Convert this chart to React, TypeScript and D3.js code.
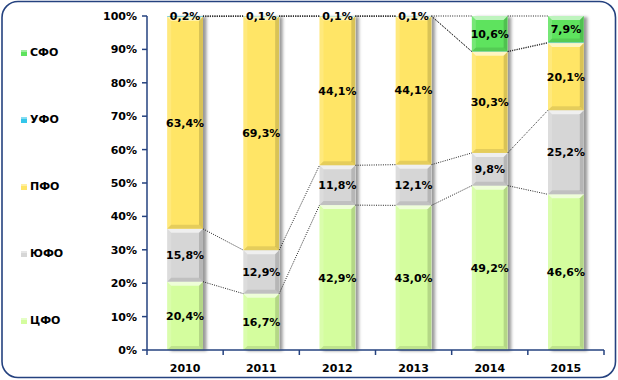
import React from "react";
import * as d3 from "d3";

const years = ["2010", "2011", "2012", "2013", "2014", "2015"];
const seriesNames = ["ЦФО", "ЮФО", "ПФО", "УФО", "СФО"];
const cfo = [20.4, 16.7, 42.9, 43.0, 49.2, 46.6];
const yufo = [15.8, 12.9, 11.8, 12.1, 9.8, 25.2];
const pfo = [63.4, 69.3, 44.1, 44.1, 30.3, 20.1];
const ufo = [0.2, 0.1, 0.1, 0.1, 0.1, 0.2];
const sfo = [0, 0, 0, 0, 10.6, 7.9];
const seriesColors = ["#d4fd9e", "#d6d6d6", "#ffe566", "#33c6ea", "#5ee35e"];
const yTicks = [0, 0.1, 0.2, 0.3, 0.4, 0.5, 0.6, 0.7, 0.8, 0.9, 1.0];

const W = 618;
const H = 380;
const M = { left: 147, right: 14, top: 16, bottom: 30 };
const FONT = "'DejaVu Sans', Verdana, sans-serif";
const AXIS = "#25427f";

const fmt = (v: number) => v.toFixed(1).replace(".", ",") + "%";

export default function App() {
  const seriesValues = [cfo, yufo, pfo, ufo, sfo];
  const rows = years.map((y, i) => {
    const r: any = { year: y };
    seriesNames.forEach((s, k) => (r[s] = seriesValues[k][i]));
    return r;
  });
  const stacked = d3
    .stack<any>()
    .keys(seriesNames)
    .offset(d3.stackOffsetExpand)(rows);

  const x = d3
    .scaleBand<string>()
    .domain(years)
    .range([M.left, W - M.right])
    .padding(0);
  const y = d3
    .scaleLinear()
    .domain([0, 1])
    .range([H - M.bottom, M.top]);
  const barW = x.bandwidth() * 0.47;
  const bx = (yr: string) => (x(yr) as number) + x.bandwidth() / 2 - barW / 2;

  const catBounds = years.map((yr) => x(yr) as number).concat([W - M.right]);

  return (
    <svg width={W} height={H} style={{ position: "absolute", left: 0, top: 0 }}>
      <defs>
        <filter id="sh" x="-30%" y="-10%" width="160%" height="120%">
          <feDropShadow dx="3.5" dy="1" stdDeviation="1.8" floodColor="#000" floodOpacity="0.4" />
        </filter>
      </defs>
      <rect x={0} y={0} width={W} height={H} fill="#fff" />
      <rect
        x={2}
        y={1.5}
        width={W - 4.5}
        height={H - 4}
        rx={16}
        ry={16}
        fill="#fff"
        stroke={AXIS}
        strokeWidth={1.6}
      />

      {/* bars */}
      {years.map((yr, i) => {
        const x0 = bx(yr);
        const x1 = x0 + barW;
        return (
          <g key={yr}>
            <rect
              x={x0}
              y={y(1)}
              width={barW}
              height={y(0) - y(1)}
              fill="#fff"
              filter="url(#sh)"
            />
            {stacked.map((s, k) => {
              const d = s[i];
              const y0 = y(d[1]);
              const y1 = y(d[0]);
              const h = y1 - y0;
              if (h <= 0.01) return null;
              const b = Math.min(4, h / 2);
              return (
                <g key={k}>
                  <rect x={x0} y={y0} width={barW} height={h} fill={seriesColors[k]} />
                  <polygon
                    points={`${x0},${y0} ${x1},${y0} ${x1 - b},${y0 + b} ${x0 + b},${y0 + b}`}
                    fill="#fff"
                    opacity={0.6}
                  />
                  <polygon
                    points={`${x0},${y0} ${x0 + b},${y0 + b} ${x0 + b},${y1 - b} ${x0},${y1}`}
                    fill="#fff"
                    opacity={0.15}
                  />
                  <polygon
                    points={`${x1},${y0} ${x1},${y1} ${x1 - b},${y1 - b} ${x1 - b},${y0 + b}`}
                    fill="#000"
                    opacity={0.15}
                  />
                  <polygon
                    points={`${x0},${y1} ${x1},${y1} ${x1 - b},${y1 - b} ${x0 + b},${y1 - b}`}
                    fill="#000"
                    opacity={0.1}
                  />
                </g>
              );
            })}
          </g>
        );
      })}

      {/* series lines */}
      {stacked.map((s, k) =>
        years.slice(0, -1).map((yr, i) => (
          <line
            key={`${k}-${i}`}
            x1={bx(yr) + barW}
            y1={y(s[i][1])}
            x2={bx(years[i + 1])}
            y2={y(s[i + 1][1])}
            stroke="#222"
            strokeWidth={1}
            strokeDasharray="1,1.3"
          />
        ))
      )}

      {/* labels */}
      {stacked.map((s, k) =>
        years.map((yr, i) => {
          const v = seriesValues[k][i];
          if (!v) return null;
          const d = s[i];
          const h = y(d[0]) - y(d[1]);
          const isTop = d[1] >= 0.9999;
          if (h < 8 && !isTop) return null;
          return (
            <text
              key={`${k}-${i}`}
              x={bx(yr) + barW / 2}
              y={(y(d[0]) + y(d[1])) / 2}
              dy="0.36em"
              textAnchor="middle"
              fontFamily={FONT}
              fontWeight="bold"
              fontSize={11}
              fill="#000"
            >
              {fmt(v)}
            </text>
          );
        })
      )}

      {/* y axis */}
      <line x1={M.left} x2={M.left} y1={y(0)} y2={y(1)} stroke={AXIS} strokeWidth={1.5} />
      {yTicks.map((t) => (
        <g key={t}>
          <line x1={M.left - 5} x2={M.left} y1={y(t)} y2={y(t)} stroke={AXIS} strokeWidth={1.5} />
          <text
            x={M.left - 10}
            y={y(t)}
            dy="0.36em"
            textAnchor="end"
            fontFamily={FONT}
            fontWeight="bold"
            fontSize={11}
            fill="#000"
          >
            {Math.round(t * 100) + "%"}
          </text>
        </g>
      ))}

      {/* x axis */}
      <line x1={M.left} x2={W - M.right} y1={y(0)} y2={y(0)} stroke={AXIS} strokeWidth={1.5} />
      {catBounds.map((cx, i) => (
        <line key={i} x1={cx} x2={cx} y1={y(0)} y2={y(0) + 5} stroke={AXIS} strokeWidth={1.5} />
      ))}
      {years.map((yr) => (
        <text
          key={yr}
          x={(x(yr) as number) + x.bandwidth() / 2}
          y={372}
          textAnchor="middle"
          fontFamily={FONT}
          fontWeight="bold"
          fontSize={11}
          fill="#000"
        >
          {yr}
        </text>
      ))}

      {/* legend */}
      {seriesNames
        .slice()
        .reverse()
        .map((nm, j) => {
          const k = seriesNames.length - 1 - j;
          const ly = 52 + j * 67;
          return (
            <g key={nm}>
              <rect x={21} y={ly - 2} width={6} height={6} fill={seriesColors[k]} />
              <rect x={21} y={ly - 2} width={6} height={2} fill="#fff" opacity={0.4} />
              <text
                x={30}
                y={ly}
                dy="0.36em"
                fontFamily={FONT}
                fontWeight="bold"
                fontSize={11}
                fill="#000"
              >
                {nm}
              </text>
            </g>
          );
        })}
    </svg>
  );
}
